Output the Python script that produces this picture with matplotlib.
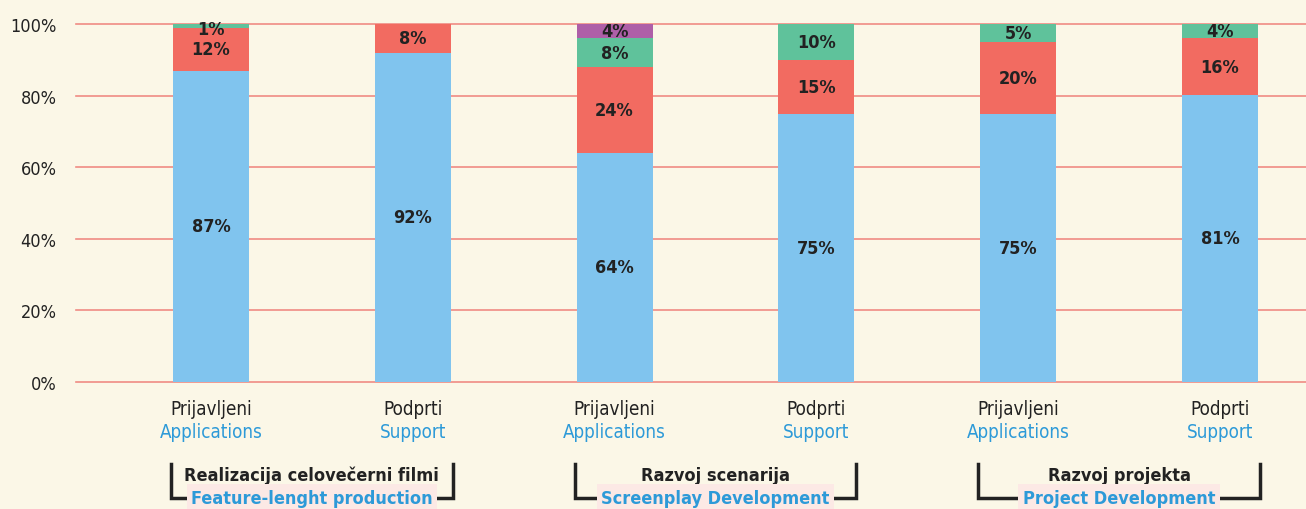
import numpy as np
import matplotlib
matplotlib.use('Agg')
import matplotlib.pyplot as plt
import matplotlib.transforms as mtransforms

# data
bar_top = ['Prijavljeni', 'Podprti', 'Prijavljeni', 'Podprti', 'Prijavljeni', 'Podprti']
bar_bottom = ['Applications', 'Support', 'Applications', 'Support', 'Applications', 'Support']
groups_si = ['Realizacija celovečerni filmi', 'Razvoj scenarija', 'Razvoj projekta']
groups_en = ['Feature-lenght production', 'Screenplay Development', 'Project Development']

blue = [87, 92, 64, 75, 75, 81]
red = [12, 8, 24, 15, 20, 16]
green = [1, 0, 8, 10, 5, 4]
purple = [0, 0, 4, 0, 0, 0]

bg = '#FBF7E7'
colors = ['#80C4EE', '#F26B61', '#5FC29B', '#AE5FA8']
series = np.array([blue, red, green, purple], dtype=float)
heights = series / series.sum(axis=0) * 100

plt.rcParams['font.family'] = 'DejaVu Sans'
plt.rcParams['font.stretch'] = 'condensed'

fig = plt.figure(figsize=(13.06, 5.10), dpi=100, facecolor=bg)
ax = fig.add_axes([76 / 1306, 1 - 383 / 510, 1 - 76 / 1306, 358 / 510])
ax.set_facecolor(bg)

x = np.arange(len(blue))
w = 0.377
bottom = np.zeros(len(x))
for i in range(len(series)):
    ax.bar(x, heights[i], w, bottom=bottom, color=colors[i], zorder=3)
    for j in range(len(x)):
        if series[i, j] > 0:
            yc = bottom[j] + heights[i, j] / 2
            if series[i, j] < 2:
                yc = bottom[j] - 0.5
            ax.text(x[j], yc, f'{int(series[i, j])}%', ha='center', va='center',
                    fontsize=13, fontweight='bold', color='#222222', zorder=4)
    bottom += heights[i]

ax.set_ylim(0, 100)
ax.set_xlim(-0.669, 5.426)
ax.set_yticks(range(0, 101, 20))
ax.set_yticklabels([f'{v}%' for v in range(0, 101, 20)], fontsize=13, color='#222222')
ax.tick_params(axis='y', length=0, pad=14)
ax.set_xticks([])
for s in ax.spines.values():
    s.set_visible(False)
for v in range(0, 101, 20):
    ax.axhline(v, color='#F08C84', lw=1.2, zorder=1, clip_on=False)

tr = mtransforms.blended_transform_factory(ax.transData, ax.transAxes)
for j in range(len(x)):
    ax.text(x[j], -0.073, bar_top[j], transform=tr, ha='center', va='center',
            fontsize=13.5, color='#222222')
    ax.text(x[j], -0.137, bar_bottom[j], transform=tr, ha='center', va='center',
            fontsize=13.5, color='#2D9AD8')

for g in range(3):
    x0 = 2 * g - w / 2 - 0.01
    x1 = 2 * g + 1 + w / 2 + 0.01
    ax.plot([x0, x0, x1, x1], [-0.229, -0.324, -0.324, -0.229], transform=tr,
            color='#222222', lw=2.5, clip_on=False, solid_joinstyle='miter')
    xm = 2 * g + 0.5
    ax.text(xm, -0.26, groups_si[g], transform=tr, ha='center', va='center',
            fontsize=13, fontweight='bold', color='#222222')
    ax.text(xm, -0.324, groups_en[g], transform=tr, ha='center', va='center',
            fontsize=13, fontweight='bold', color='#2D9AD8',
            bbox=dict(boxstyle='square,pad=0.25', fc='#FCE9E5', ec='none'))

fig.savefig('out.png', dpi=100, facecolor=bg)
